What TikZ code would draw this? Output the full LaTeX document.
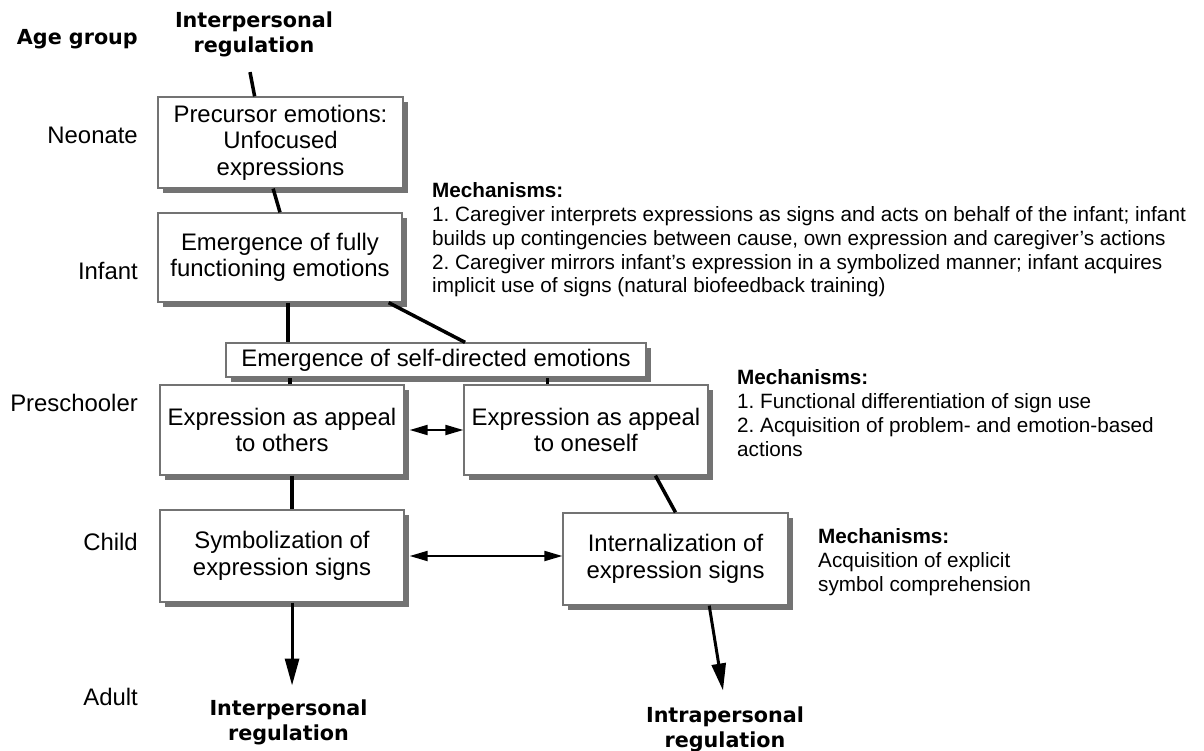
\documentclass[tikz,border=0pt]{standalone}
\usepackage{fontspec}
\setmainfont{Liberation Sans}
\newfontfamily\headsans{DejaVu Sans}
\usetikzlibrary{shadows,arrows.meta,calc}
\frenchspacing
\begin{document}
\begin{tikzpicture}[x=1pt,y=-1pt,
	stagebox/.style={draw=black!55,line width=1.3pt,fill=white,
		drop shadow={shadow xshift=5pt,shadow yshift=-5pt,fill=black!55,opacity=1},
		align=center,inner sep=0pt,font=\fontsize{23.9}{26.5}\selectfont},
	agelbl/.style={anchor=mid east,inner sep=0pt,font=\fontsize{23.9}{26.5}\selectfont},
	reglbl/.style={anchor=north,inner sep=0pt,align=center,font=\headsans\bfseries\fontsize{20.7}{25}\selectfont},
	mechtext/.style={anchor=north west,inner sep=0pt,align=left,font=\fontsize{20.7}{23.8}\selectfont},
	link/.style={line width=3.5pt},
	flow/.style={line width=3pt,-{Triangle[length=27pt,width=14pt]}},
	both/.style={line width=2pt,{Triangle[length=18pt,width=10pt]}-{Triangle[length=18pt,width=10pt]}}]

	\useasboundingbox (0,0) rectangle (1204,751);

	\node[agelbl,font=\headsans\bfseries\fontsize{20.7}{25}\selectfont] (agegroup) at (138,42) {Age group};
	\node[agelbl] (neonate) at (138,141) {Neonate};
	\node[agelbl] (infant) at (138,277) {Infant};
	\node[agelbl] (preschool) at (138,409) {Preschooler};
	\node[agelbl] (child) at (138,548) {Child};
	\node[agelbl] (adult) at (138,703) {Adult};

	\node[reglbl] (inter0) at (254,12) {Interpersonal\\regulation};
	\node[reglbl] (inter1) at (288.5,699.5) {Interpersonal\\regulation};
	\node[reglbl] (intra1) at (725,706.5) {Intrapersonal\\regulation};

	\node[stagebox,minimum width=245pt,minimum height=91pt] (pre) at (280.5,142.5) {Precursor emotions:\\Unfocused\\expressions};
	\node[stagebox,minimum width=244pt,minimum height=89pt] (full) at (280,257.5) {Emergence of fully\\functioning emotions};
	\node[stagebox,minimum width=420pt,minimum height=34pt] (self) at (436,360) {Emergence of self-directed emotions};
	\node[stagebox,minimum width=244pt,minimum height=90pt] (others) at (282,430) {Expression as appeal\\to others};
	\node[stagebox,minimum width=244pt,minimum height=90pt] (oneself) at (586,430) {Expression as appeal\\to oneself};
	\node[stagebox,minimum width=244pt,minimum height=92pt] (symb) at (282,556) {Symbolization of\\expression signs};
	\node[stagebox,minimum width=225pt,minimum height=92pt] (intern) at (675.5,559) {Internalization of\\expression signs};

	\node[mechtext] (mech1) at (432,182.5) {\textbf{Mechanisms:}\\
		1. Caregiver interprets expressions as signs and acts on behalf of the infant; infant\\
		builds up contingencies between cause, own expression and caregiver's actions\\
		2. Caregiver mirrors infant's expression in a symbolized manner; infant acquires\\
		implicit use of signs (natural biofeedback training)};
	\node[mechtext] (mech2) at (737,369.5) {\textbf{Mechanisms:}\\
		1. Functional differentiation of sign use\\
		2. Acquisition of problem- and emotion-based\\
		actions};
	\node[mechtext] (mech3) at (818,528.5) {\textbf{Mechanisms:}\\
		Acquisition of explicit\\
		symbol comprehension};

	\draw[link] ($(inter0.south)+(-4,14.5)$) -- ($(pre.north west)!.395!(pre.north east)$);
	\draw[link] ($(pre.south west)!.47!(pre.south east)$) -- (full.north);
	\draw[link] ($(full.south west)!.533!(full.south east)$) coordinate (fa) -- (fa |- self.north);
	\draw[link] ($(full.south west)!.943!(full.south east)$) -- ($(self.north west)!.569!(self.north east)$);
	\draw[link] ($(others.north west)!.533!(others.north east)$) coordinate (oa) -- (oa |- self.south);
	\draw[link] ($(oneself.north west)!.344!(oneself.north east)$) coordinate (ob) -- (ob |- self.south);
	\draw[both] ([xshift=5pt]others.east) -- (oneself.west);
	\draw[link] ($(others.south west)!.541!(others.south east)$) coordinate (oc) -- (oc |- symb.north);
	\draw[link] ($(oneself.south west)!.783!(oneself.south east)$) -- (intern.north);
	\draw[both] ([xshift=5pt]symb.east) -- (symb.east -| intern.west);
	\draw[flow,shorten >=14pt] ($(symb.south west)!.541!(symb.south east)$) coordinate (sa) -- (sa |- inter1.north);
	\draw[flow] ($(intern.south west)!.649!(intern.south east)$) -- ($(intra1.north)+(-2,-16)$);

\end{tikzpicture}
\end{document}
